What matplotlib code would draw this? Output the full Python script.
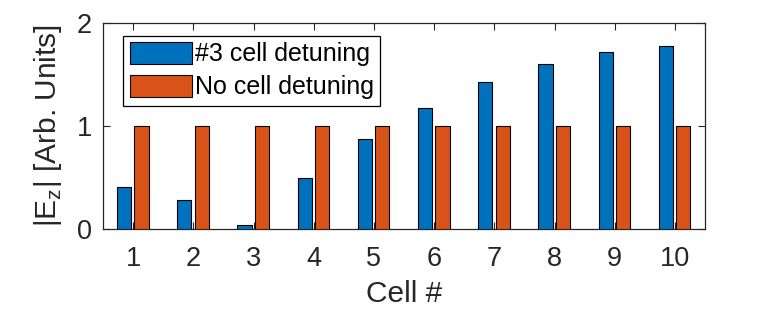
import matplotlib
matplotlib.use("Agg")
import matplotlib.pyplot as plt
import numpy as np

cells = [1, 2, 3, 4, 5, 6, 7, 8, 9, 10]
detuned = [0.41, 0.283, 0.04, 0.497, 0.877, 1.179, 1.423, 1.598, 1.715, 1.774]
no_detuning = [1, 1, 1, 1, 1, 1, 1, 1, 1, 1]
labels = ["#3 cell detuning", "No cell detuning"]

plt.rcParams["font.family"] = ["Liberation Sans", "DejaVu Sans"]
plt.rcParams["mathtext.fontset"] = "custom"
plt.rcParams["mathtext.rm"] = "Liberation Sans"

dark = "#262626"

fig = plt.figure(figsize=(7.81, 3.12), dpi=100)
ax = fig.add_axes([0.1319, 0.265, 0.7708, 0.6622])

x = np.array(cells)
w = 0.235
ax.bar(x - 0.15, detuned, w, color="#0072BD", edgecolor="black",
       linewidth=0.8, label=labels[0], zorder=3)
ax.bar(x + 0.14, no_detuning, w, color="#D95319", edgecolor="black",
       linewidth=0.8, label=labels[1], zorder=3)

ax.set_xlim(0.5, 10.5)
ax.set_ylim(0, 2)
ax.set_xticks(cells)
ax.set_yticks([0, 1, 2])
ax.tick_params(direction="in", length=5, width=0.8, colors=dark,
               labelsize=19.5, top=True, right=True, pad=8)
ax.tick_params(axis="x", pad=12)
for side in ax.spines.values():
    side.set_color(dark)
    side.set_linewidth(0.9)

ax.set_xlabel("Cell #", fontsize=21.5, color=dark, labelpad=6)
ax.set_ylabel(r"|E$_\mathrm{z}$| [Arb. Units]", fontsize=21.5, color=dark,
              labelpad=9)

leg = ax.legend(loc="upper left", bbox_to_anchor=(0.034, 0.937),
                borderaxespad=0, fontsize=18, fancybox=False,
                edgecolor="black", framealpha=1, handlelength=2.5,
                handleheight=0.95, handletextpad=0.12, borderpad=0.25,
                labelspacing=0.35)
leg.get_frame().set_linewidth(0.9)
leg.set_zorder(5)

fig.savefig("out.png", dpi=100)
